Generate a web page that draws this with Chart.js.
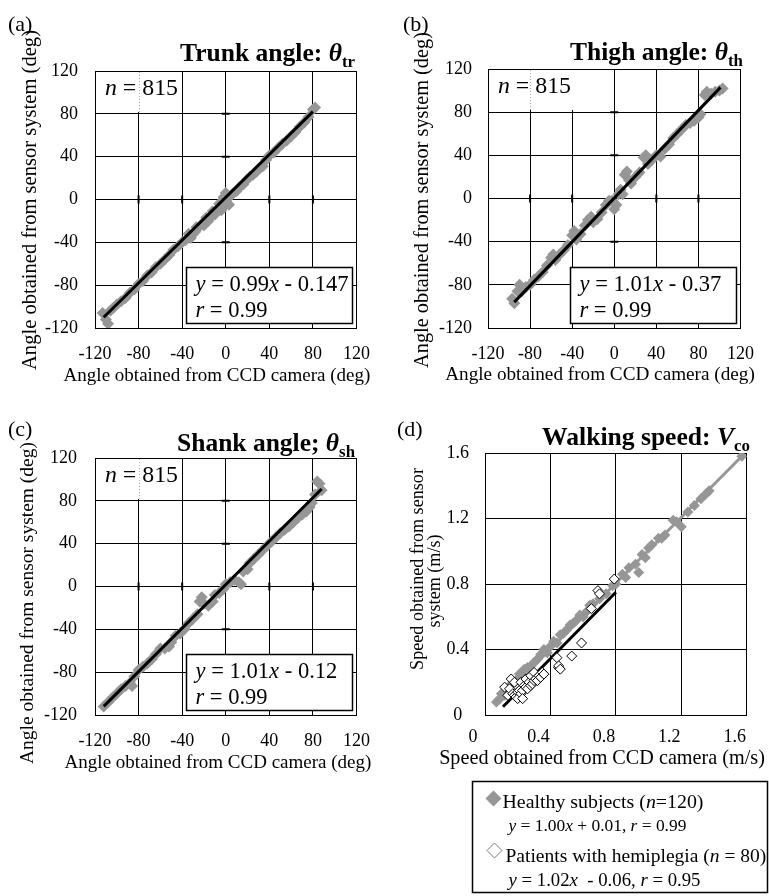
<!DOCTYPE html>
<html>
<head>
<meta charset="utf-8">
<script src="https://cdn.jsdelivr.net/npm/chart.js@4.4.1/dist/chart.umd.min.js"></script>
<style>
html, body { margin: 0; padding: 0; background: #fff; }
.panel { position: absolute; }
</style>
</head>
<body>
<div class="panel" style="left:0;top:0"><canvas id="chartA" width="385" height="390"></canvas></div>
<div class="panel" style="left:385px;top:0"><canvas id="chartB" width="384" height="390"></canvas></div>
<div class="panel" style="left:0;top:390px"><canvas id="chartC" width="385" height="390"></canvas></div>
<div class="panel" style="left:385px;top:390px"><canvas id="chartD" width="384" height="506"></canvas></div>
<script>
// values
const angleTicks = [-120, -80, -40, 0, 40, 80, 120];
const speedTicks = [0, 0.4, 0.8, 1.2, 1.6];

// (a) trunk angle
const trunkX = [-113, -110, -108, -106, -103, -100, -96, -92, -88, -84, -80, -76, -72, -68, -64, -60, -56, -52, -48, -44, -40, -37, -34, -32, -30, -28, -27, -24, -21, -20, -18, -16, -15, -12, -10, -9, -6, -4, -3, -2, 0, 1, 3, 5, 7, 10, 13, 16, 19, 22, 25, 28, 31, 34, 37, 40, 44, 48, 52, 56, 60, 64, 68, 72, 76, 80, 82];
const trunkY = [-106, -112, -116, -104, -101, -98, -95, -92, -87, -84, -79, -76, -71, -68, -63, -60, -56, -52, -47, -44, -40, -38, -32, -36, -32, -30, -26, -25, -22, -24, -17, -20, -17, -11, -14, -12, -4, -10, -8, 2, 6, -3, -5, 4, 6, 8, 12, 14, 18, 21, 23, 26, 29, 31, 37, 41, 44, 48, 52, 55, 59, 63, 68, 72, 77, 84, 86];
const trunkFitX = [-112, 80];
const trunkFitY = [-110, 82];

// (b) thigh angle
const thighX = [-97, -95, -92, -90, -88, -84, -80, -76, -72, -68, -64, -60, -58, -56, -52, -48, -44, -40, -38, -36, -32, -28, -25, -22, -20, -16, -12, -8, -5, -2, 0, 2, 4, 6, 8, 10, 12, 14, 16, 20, 24, 28, 30, 32, 36, 40, 44, 48, 52, 56, 60, 64, 68, 72, 76, 80, 82, 86, 88, 92, 96, 100, 103];
const thighY = [-93, -97, -86, -80, -86, -82, -80, -75, -72, -68, -62, -55, -52, -57, -52, -48, -43, -34, -30, -38, -33, -25, -20, -17, -22, -19, -13, -6, -2, -2, -10, -6, 4, 8, 4, 22, 25, 17, 14, 20, 24, 38, 40, 32, 36, 40, 39, 46, 50, 56, 60, 64, 68, 70, 72, 75, 78, 96, 99, 97, 99, 100, 102];
const thighFitX = [-95, 101];
const thighFitY = [-96, 103];

// (c) shank angle
const shankX = [-112, -108, -104, -100, -96, -92, -88, -86, -84, -80, -76, -72, -68, -64, -60, -56, -52, -50, -46, -42, -38, -34, -30, -26, -24, -22, -20, -16, -12, -10, -6, -2, 0, 4, 8, 12, 14, 16, 20, 22, 26, 30, 34, 38, 42, 46, 50, 54, 58, 62, 66, 70, 74, 77, 79, 82, 84, 86, 88];
const shankY = [-112, -108, -104, -100, -96, -93, -90, -93, -84, -78, -75, -72, -68, -63, -58, -58, -56, -52, -46, -44, -40, -34, -30, -26, -14, -10, -16, -18, -14, -8, -6, -2, 2, 4, 6, 4, 2, 14, 16, 22, 26, 30, 34, 38, 42, 46, 50, 53, 56, 60, 64, 67, 70, 74, 78, 86, 98, 96, 90];
const shankFitX = [-112, 88];
const shankFitY = [-112, 91];

// (d) walking speed
const healthyX = [0.07, 0.09, 0.10, 0.12, 0.13, 0.15, 0.16, 0.18, 0.20, 0.21, 0.23, 0.24, 0.26, 0.28, 0.30, 0.32, 0.34, 0.36, 0.38, 0.40, 0.42, 0.44, 0.46, 0.48, 0.50, 0.52, 0.54, 0.56, 0.58, 0.60, 0.62, 0.64, 0.66, 0.70, 0.74, 0.78, 0.80, 0.84, 0.86, 0.88, 0.92, 0.94, 0.96, 0.98, 1.00, 1.02, 1.06, 1.08, 1.10, 1.15, 1.17, 1.20, 1.24, 1.28, 1.32, 1.35, 1.37, 1.57];
const healthyY = [0.08, 0.10, 0.13, 0.12, 0.16, 0.15, 0.19, 0.20, 0.22, 0.25, 0.24, 0.28, 0.29, 0.30, 0.32, 0.34, 0.37, 0.40, 0.38, 0.42, 0.45, 0.44, 0.49, 0.50, 0.52, 0.55, 0.56, 0.58, 0.61, 0.60, 0.63, 0.67, 0.68, 0.71, 0.74, 0.79, 0.80, 0.86, 0.84, 0.90, 0.92, 0.87, 0.98, 0.96, 1.02, 1.04, 1.08, 1.08, 1.10, 1.19, 1.18, 1.15, 1.24, 1.28, 1.32, 1.35, 1.37, 1.58];
const patientX = [0.12, 0.14, 0.15, 0.16, 0.17, 0.18, 0.18, 0.19, 0.20, 0.20, 0.21, 0.22, 0.22, 0.23, 0.23, 0.24, 0.25, 0.25, 0.26, 0.27, 0.28, 0.28, 0.29, 0.30, 0.30, 0.31, 0.32, 0.33, 0.34, 0.35, 0.36, 0.44, 0.45, 0.45, 0.46, 0.53, 0.59, 0.65, 0.69, 0.70, 0.79];
const patientY = [0.17, 0.12, 0.16, 0.22, 0.13, 0.12, 0.20, 0.11, 0.14, 0.10, 0.15, 0.13, 0.20, 0.15, 0.10, 0.18, 0.17, 0.22, 0.16, 0.20, 0.18, 0.24, 0.19, 0.21, 0.26, 0.22, 0.21, 0.24, 0.23, 0.26, 0.25, 0.35, 0.29, 0.30, 0.28, 0.36, 0.44, 0.65, 0.76, 0.74, 0.83];
const healthyFitX = [0.07, 1.57];
const healthyFitY = [0.07, 1.58];
const patientFitX = [0.11, 0.80];
const patientFitY = [0.05, 0.75];

const SERIF = '"Liberation Serif", "Times New Roman", serif';
const GRAY = '#969696';

function zip(xs, ys) {
    return xs.map((x, i) => ({ x: x, y: ys[i] }));
}

// draws a run of text pieces: style letters b = bold, i = italic, s = subscript
// when target is given the size is scaled so the run is that wide
function richText(ctx, x, y, parts, size, align, target) {
    const fontOf = (st, base) => {
        const sz = st.includes('s') ? base * 0.66 : base;
        return (st.includes('i') ? 'italic ' : '') + (st.includes('b') ? 'bold ' : '') + sz.toFixed(2) + 'px ' + SERIF;
    };
    const widthAt = base => {
        let w = 0;
        parts.forEach(p => { ctx.font = fontOf(p[1], base); w += ctx.measureText(p[0]).width; });
        return w;
    };
    if (target) size = size * target / widthAt(size);
    const w = widthAt(size);
    let cx = align === 'right' ? x - w : align === 'center' ? x - w / 2 : x;
    ctx.textAlign = 'left';
    ctx.fillStyle = '#000';
    parts.forEach(p => {
        ctx.font = fontOf(p[1], size);
        ctx.fillText(p[0], cx, y + (p[1].includes('s') ? size * 0.22 : 0));
        cx += ctx.measureText(p[0]).width;
    });
    return size;
}

// axis title, horizontal or turned to read upwards, centred on (cx, cy)
// a line without a width takes the size of the line before it
function axisTitle(ctx, t, prevSize) {
    ctx.save();
    ctx.translate(t.cx, t.cy);
    if (t.rotate) ctx.rotate(-Math.PI / 2);
    ctx.textBaseline = 'middle';
    const size = richText(ctx, 0, 0, [[t.text, '']], t.w ? 20 : prevSize, 'center', t.w);
    ctx.restore();
    return size;
}

function decorPlugin(deco) {
    return {
        id: 'decor',
        afterDatasetsDraw(chart) {
            const ctx = chart.ctx;
            const a = chart.chartArea;
            const xs = chart.scales.x, ys = chart.scales.y;
            ctx.save();
            if (deco.zeroTicks) {
                // small cross ticks on the zero lines
                const x0 = xs.getPixelForValue(0), y0 = ys.getPixelForValue(0);
                const last = deco.zeroTicks.length - 1;
                ctx.strokeStyle = '#000';
                ctx.lineWidth = 2;
                ctx.beginPath();
                deco.zeroTicks.forEach((v, i) => {
                    if (v === 0 || i === 0 || i === last) return;
                    const px = xs.getPixelForValue(v), py = ys.getPixelForValue(v);
                    ctx.moveTo(px, y0 - 4); ctx.lineTo(px, y0 + 4);
                    ctx.moveTo(x0 - 4, py); ctx.lineTo(x0 + 4, py);
                });
                ctx.stroke();
            }
            ctx.textBaseline = 'alphabetic';
            if (deco.nText) {
                // white patch behind "n = 815"
                ctx.fillStyle = '#fff';
                ctx.fillRect(a.left + 1, a.top + 1, 84, 40);
                const gx = Math.round(xs.getPixelForValue(-80)) + 0.5;
                ctx.strokeStyle = '#aaa';
                ctx.lineWidth = 1;
                ctx.setLineDash([1, 2]);
                ctx.beginPath();
                ctx.moveTo(gx, a.top + 1);
                ctx.lineTo(gx, a.top + 41);
                ctx.stroke();
                ctx.setLineDash([]);
                richText(ctx, a.left + 10, a.top + 24, deco.nText, 20, 'left', 73);
            }
            if (deco.fitText) {
                const bw = 166, bh = 56;
                const bx = Math.round(a.right - 5 - bw) + 0.5;
                const by = Math.round(a.bottom - 5 - bh) + 0.5;
                ctx.fillStyle = '#fff';
                ctx.fillRect(bx, by, bw, bh);
                ctx.strokeStyle = '#000';
                ctx.lineWidth = 1.5;
                ctx.strokeRect(bx, by, bw, bh);
                richText(ctx, bx + 9, by + 23, deco.fitText, 20, 'left', deco.fitW);
                richText(ctx, bx + 9, by + 49, [['r', 'i'], [' = 0.99', '']], 20, 'left', 72);
            }
            if (deco.legend) {
                const L = deco.legend;
                ctx.fillStyle = '#fff';
                ctx.fillRect(L.x, L.y, L.w, L.h);
                ctx.strokeStyle = '#000';
                ctx.lineWidth = 1.5;
                ctx.strokeRect(L.x, L.y, L.w, L.h);
                ctx.fillStyle = GRAY;
                ctx.strokeStyle = GRAY;
                Chart.helpers.drawPoint(ctx, { pointStyle: 'rectRot', radius: 8, borderWidth: 0, rotation: 0 }, L.x + 21, L.y + 17);
                ctx.fillStyle = '#fff';
                ctx.strokeStyle = '#777';
                ctx.lineWidth = 1;
                Chart.helpers.drawPoint(ctx, { pointStyle: 'rectRot', radius: 7.5, borderWidth: 1, rotation: 0 }, L.x + 22, L.y + 69);
                richText(ctx, L.x + 30, L.y + 26, [['Healthy subjects (', ''], ['n', 'i'], ['=120)', '']], 20, 'left', 201);
                richText(ctx, L.x + 36, L.y + 49, [['y', 'i'], [' = 1.00', ''], ['x', 'i'], [' + 0.01, ', ''], ['r', 'i'], [' = 0.99', '']], 20, 'left', 178);
                richText(ctx, L.x + 33, L.y + 80, [['Patients with hemiplegia (', ''], ['n', 'i'], [' = 80)', '']], 20, 'left', 261);
                richText(ctx, L.x + 36, L.y + 104, [['y', 'i'], [' = 1.02', ''], ['x', 'i'], ['  - 0.06, ', ''], ['r', 'i'], [' = 0.95', '']], 20, 'left', 192);
            }
            // axis titles
            let size = 20;
            deco.titles.forEach(t => { size = axisTitle(ctx, t, size); });
            // panel letter and title
            ctx.textBaseline = 'alphabetic';
            ctx.font = '22px ' + SERIF;
            ctx.fillStyle = '#000';
            ctx.textAlign = 'left';
            ctx.fillText(deco.letter, deco.letterX, deco.letterY);
            richText(ctx, deco.titleX, deco.titleY, deco.title, 24, 'right', deco.titleW);
            ctx.restore();
        }
    };
}

function axis(cfg) {
    return {
        type: 'linear',
        min: cfg.ticks[0],
        max: cfg.ticks[cfg.ticks.length - 1],
        afterBuildTicks: s => { s.ticks = cfg.ticks.map(v => ({ value: v })); },
        ticks: {
            font: { family: SERIF, size: 18 },
            color: '#000',
            padding: cfg.pad,
            crossAlign: cfg.cross || 'near',
            labelOffset: cfg.labelOffset || 0,
            maxRotation: 0,
            autoSkip: false,
            callback: v => cfg.fmt ? cfg.fmt(v) : String(v)
        },
        grid: { color: '#000', lineWidth: 1, drawTicks: false },
        border: { color: '#000', width: 1 },
        afterFit: cfg.fit
    };
}

function makeChart(id, datasets, deco, xCfg, yCfg) {
    return new Chart(document.getElementById(id), {
        type: 'scatter',
        data: { datasets: datasets },
        options: {
            responsive: false,
            animation: false,
            events: [],
            layout: { padding: { top: deco.top, right: deco.right, left: 0, bottom: deco.bottom || 0 } },
            plugins: { legend: { display: false }, tooltip: { enabled: false } },
            scales: { x: axis(xCfg), y: axis(yCfg) }
        },
        plugins: [decorPlugin(deco)]
    });
}

function angleSets(xs, ys, fx, fy) {
    return [
        { data: zip(fx, fy), showLine: true, borderColor: '#000', borderWidth: 3, pointRadius: 0 },
        { data: zip(xs, ys), pointStyle: 'rectRot', pointRadius: 6, backgroundColor: GRAY, borderWidth: 0 }
    ];
}

const xAngleTitle = 'Angle obtained from CCD camera (deg)';
const yAngleTitle = 'Angle obtained from sensor system (deg)';
const nParts = [['n', 'i'], [' = 815', '']];

makeChart('chartA', angleSets(trunkX, trunkY, trunkFitX, trunkFitY), {
    top: 71, right: 28,
    letter: '(a)', letterX: 8, letterY: 31,
    title: [['Trunk angle: ', 'b'], ['\u03b8', 'bi'], ['tr', 'bs']], titleX: 355, titleY: 61, titleW: 175,
    nText: nParts, zeroTicks: angleTicks,
    fitText: [['y', 'i'], [' = 0.99', ''], ['x', 'i'], [' - 0.147', '']], fitW: 153,
    titles: [
        { text: xAngleTitle, w: 307, cx: 217, cy: 376 },
        { text: yAngleTitle, w: 340, cx: 31, cy: 200, rotate: true }
    ]
}, { ticks: angleTicks, pad: 15, fit: s => { s.height = 62; } },
   { ticks: angleTicks, pad: 17, fit: s => { s.width = 95; } });

makeChart('chartB', angleSets(thighX, thighY, thighFitX, thighFitY), {
    top: 69, right: 17,
    letter: '(b)', letterX: 18, letterY: 31,
    title: [['Thigh angle: ', 'b'], ['\u03b8', 'bi'], ['th', 'bs']], titleX: 358, titleY: 60, titleW: 173,
    nText: nParts, zeroTicks: angleTicks,
    fitText: [['y', 'i'], [' = 1.01', ''], ['x', 'i'], [' - 0.37', '']], fitW: 142,
    titles: [
        { text: xAngleTitle, w: 310, cx: 215, cy: 375 },
        { text: yAngleTitle, w: 336, cx: 38, cy: 200, rotate: true }
    ]
}, { ticks: angleTicks, pad: 15, fit: s => { s.height = 62; } },
   { ticks: angleTicks, pad: 16, fit: s => { s.width = 103; } });

makeChart('chartC', angleSets(shankX, shankY, shankFitX, shankFitY), {
    top: 68, right: 28,
    letter: '(c)', letterX: 8, letterY: 46,
    title: [['Shank angle; ', 'b'], ['\u03b8', 'bi'], ['sh', 'bs']], titleX: 355, titleY: 61, titleW: 178,
    nText: nParts, zeroTicks: angleTicks,
    fitText: [['y', 'i'], [' = 1.01', ''], ['x', 'i'], [' - 0.12', '']], fitW: 142,
    titles: [
        { text: xAngleTitle, w: 307, cx: 218, cy: 373 },
        { text: yAngleTitle, w: 322, cx: 28, cy: 213, rotate: true }
    ]
}, { ticks: angleTicks, pad: 15, fit: s => { s.height = 65; } },
   { ticks: angleTicks, pad: 18, fit: s => { s.width = 95; } });

const speedFmt = v => v === 0 ? '0' : v.toFixed(1);
makeChart('chartD', [
    { data: zip(patientX, patientY), pointStyle: 'rectRot', pointRadius: 5, backgroundColor: '#fff', borderColor: '#000', borderWidth: 1 },
    { data: zip(patientFitX, patientFitY), showLine: true, borderColor: '#000', borderWidth: 3, pointRadius: 0 },
    { data: zip(healthyFitX, healthyFitY), showLine: true, borderColor: GRAY, borderWidth: 3, pointRadius: 0 },
    { data: zip(healthyX, healthyY), pointStyle: 'rectRot', pointRadius: 5.5, backgroundColor: GRAY, borderWidth: 0 }
], {
    top: 63, right: 16, bottom: 121,
    letter: '(d)', letterX: 12, letterY: 46,
    title: [['Walking speed: ', 'b'], ['V', 'bi'], ['co', 'bs']], titleX: 365, titleY: 55, titleW: 208,
    legend: { x: 87.5, y: 391.5, w: 295, h: 111 },
    titles: [
        { text: 'Speed obtained from CCD camera (m/s)', w: 326, cx: 217, cy: 369 },
        { text: 'Speed obtained from sensor', w: 202, cx: 33, cy: 179, rotate: true },
        { text: 'system (m/s)', cx: 50, cy: 191, rotate: true }
    ]
}, { ticks: speedTicks, pad: 11, labelOffset: -12, fmt: speedFmt, fit: s => { s.height = 60; } },
   { ticks: speedTicks, pad: 16, cross: 'center', fmt: speedFmt, fit: s => { s.width = 100; } });
</script>
</body>
</html>
